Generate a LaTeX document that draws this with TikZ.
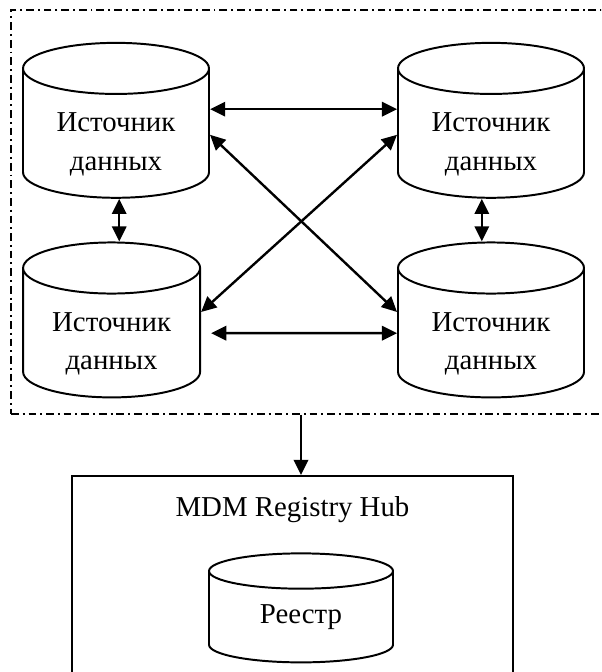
\documentclass[tikz,border=0pt]{standalone}
\usepackage{fontspec}
\setmainfont{Liberation Serif}
\usetikzlibrary{shapes.geometric,arrows.meta}

% text of a source, set a little lower in its cylinder
\newcommand{\srctext}[1]{\raisebox{-0.24cm}[\height][\depth]{\begin{tabular}{@{}c@{}}#1\end{tabular}}}

\begin{document}
\begin{tikzpicture}[
  font=\fontsize{20.5}{27.5}\selectfont,
  db/.style={cylinder, shape border rotate=90, draw, line width=1.4pt, fill=white,
             aspect=0.43, align=center, inner sep=0pt},
  src/.style={db, minimum width=4.65cm, minimum height=3.675cm},
  flow/.style={draw, line width=1.7pt, {Triangle[length=3.8mm,width=3.6mm]}-{Triangle[length=3.8mm,width=3.6mm]}},
  down/.style={draw, line width=1.7pt, -{Triangle[length=3.8mm,width=3.6mm]}},
  zone/.style={draw, line width=1.2pt, dash pattern=on 5.5pt off 2.8pt on 1.4pt off 2.8pt},
]
\clip (0,0) rectangle (15.025,16.8);

% ---------------- the sources ----------------
\node[zone, minimum width=15.225cm, minimum height=10.1cm] (area) at (7.8875,11.5) {};

\node[src]                        (tl) at ( 2.900,13.46) {\srctext{Источник\\данных}};
\node[src]                        (tr) at (12.275,13.46) {\srctext{Источник\\данных}};
\node[src, minimum width=4.425cm] (bl) at ( 2.790, 8.47) {\srctext{Источник\\данных}};
\node[src]                        (br) at (12.275, 8.47) {\srctext{Источник\\данных}};

\draw[flow] ([yshift= 0.61cm]tl.east) -- ([yshift= 0.61cm]tr.west);
\draw[flow] ([xshift=0.25cm]bl.east) -- (br.west);
\draw[flow] ([yshift=-0.03cm]tl.east) -- ([yshift= 0.53cm]br.west);
\draw[flow] ([yshift=-0.03cm]tr.west) -- ([yshift= 0.53cm]bl.east);
\draw[flow] ([xshift= 0.08cm]tl.south) -- ([xshift= 0.08cm]tl.south |- bl.north);
\draw[flow] ([xshift=-0.23cm]tr.south) -- ([xshift=-0.23cm]tr.south |- br.north);

% ---------------- the hub ----------------
\node[draw, line width=1.3pt, fill=white, minimum width=11.025cm, minimum height=5.6cm] (hub) at (7.3125,2.1) {};
\node (title) at (7.3125,4.05) {MDM Registry Hub};
\node[db, minimum width=4.6cm, minimum height=2.725cm] (reg) at (7.525,1.37) {Реестр};

\draw[down] (reg |- area.south) -- (reg |- hub.north);

\end{tikzpicture}
\end{document}
